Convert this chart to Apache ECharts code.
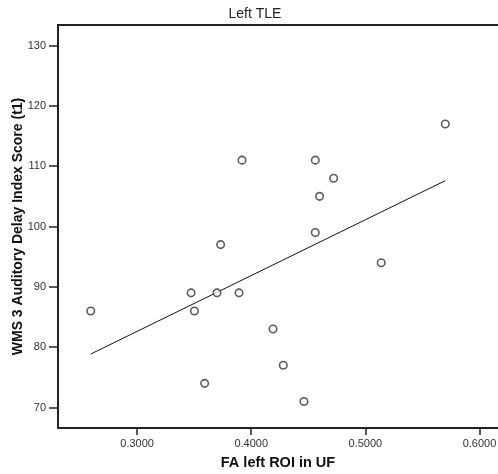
<!DOCTYPE html>
<html>
<head>
<meta charset="utf-8">
<script src="https://cdn.jsdelivr.net/npm/echarts@6/dist/echarts.min.js"></script>
<style>
  html, body { margin: 0; padding: 0; background: #fff; }
  #chart { width: 498px; height: 474px; }
</style>
</head>
<body>
<div id="chart"></div>
<script>
// FA in the left uncinate fasciculus ROI vs. WMS-3 auditory delay index score
const faLeftUF = [0.2594, 0.3473, 0.3502, 0.3592, 0.3700, 0.3732, 0.3893, 0.3919, 0.4191,
                  0.4281, 0.4462, 0.4561, 0.4561, 0.4599, 0.4722, 0.5139, 0.5700];
const auditoryDelay = [86, 89, 86, 74, 89, 97, 89, 111, 83,
                       77, 71, 111, 99, 105, 108, 94, 117];
const xTicks = [0.3, 0.4, 0.5, 0.6];
const yTicks = [70, 80, 90, 100, 110, 120, 130];

// Ordinary least-squares fit line across the observed FA range
function linearFit(xs, ys) {
  const n = xs.length;
  const mx = xs.reduce((a, b) => a + b, 0) / n;
  const my = ys.reduce((a, b) => a + b, 0) / n;
  let sxy = 0, sxx = 0;
  for (let i = 0; i < n; i++) {
    sxy += (xs[i] - mx) * (ys[i] - my);
    sxx += (xs[i] - mx) * (xs[i] - mx);
  }
  const slope = sxy / sxx;
  return x => my + slope * (x - mx);
}
const fit = linearFit(faLeftUF, auditoryDelay);
const xLo = Math.min(...faLeftUF), xHi = Math.max(...faLeftUF);
const fitLine = [[xLo, fit(xLo)], [xHi, fit(xHi)]];

const points = faLeftUF.map((x, i) => [x, auditoryDelay[i]]);
const font = 'Liberation Sans, Arial, sans-serif';

const chart = echarts.init(document.getElementById('chart'), null, { renderer: 'canvas' });
chart.setOption({
  animation: false,
  backgroundColor: '#fff',
  grid: { left: 58, top: 25, right: 0, bottom: 46, containLabel: false, outerBoundsMode: 'none' },
  xAxis: {
    type: 'value',
    min: 0.2307, max: 0.6162,
    name: 'FA left ROI in UF',
    nameLocation: 'middle', nameGap: 27, nameMoveOverlap: false,
    nameTextStyle: { fontFamily: font, fontSize: 14.5, fontWeight: 'bold', color: '#111' },
    axisLine: { show: true, lineStyle: { color: '#222', width: 2 } },
    axisTick: { show: true, inside: false, length: 7, lineStyle: { color: '#222', width: 1.5 }, customValues: xTicks },
    axisLabel: {
      fontFamily: font, fontSize: 11, color: '#333', margin: 10,
      customValues: xTicks,
      formatter: v => v.toFixed(4)
    },
    splitLine: { show: false }
  },
  yAxis: {
    type: 'value',
    min: 66.6, max: 133.4,
    name: 'WMS 3 Auditory Delay Index Score (t1)',
    nameLocation: 'middle', nameGap: 33, nameMoveOverlap: false,
    nameTextStyle: { fontFamily: font, fontSize: 14, fontWeight: 'bold', color: '#111' },
    axisLine: { show: true, lineStyle: { color: '#222', width: 2 } },
    axisTick: { show: true, inside: false, length: 9, lineStyle: { color: '#222', width: 1.5 }, customValues: yTicks },
    axisLabel: {
      fontFamily: font, fontSize: 11, color: '#333', margin: 12,
      customValues: yTicks
    },
    splitLine: { show: false }
  },
  series: [
    {
      type: 'scatter',
      data: points,
      symbol: 'circle',
      symbolSize: 7.5,
      itemStyle: { color: '#fff', borderColor: '#333', borderWidth: 1.6 },
      z: 3
    },
    {
      type: 'line',
      data: fitLine,
      symbol: 'none',
      lineStyle: { color: '#111', width: 1 },
      z: 2
    }
  ]
});
// Top frame edge of the plotting area, plus the centred chart title above it
const gridRect = chart.getModel().getComponent('grid').coordinateSystem.getRect();
chart.setOption({
  graphic: [
    {
      type: 'line',
      shape: { x1: gridRect.x - 1, y1: gridRect.y, x2: gridRect.x + gridRect.width, y2: gridRect.y },
      style: { stroke: '#222', lineWidth: 2 }
    },
    {
      type: 'text',
      x: 255, y: 14,
      style: {
        text: 'Left TLE', fontFamily: font, fontSize: 14, fill: '#222',
        align: 'center', verticalAlign: 'middle'
      }
    }
  ]
});
</script>
</body>
</html>
